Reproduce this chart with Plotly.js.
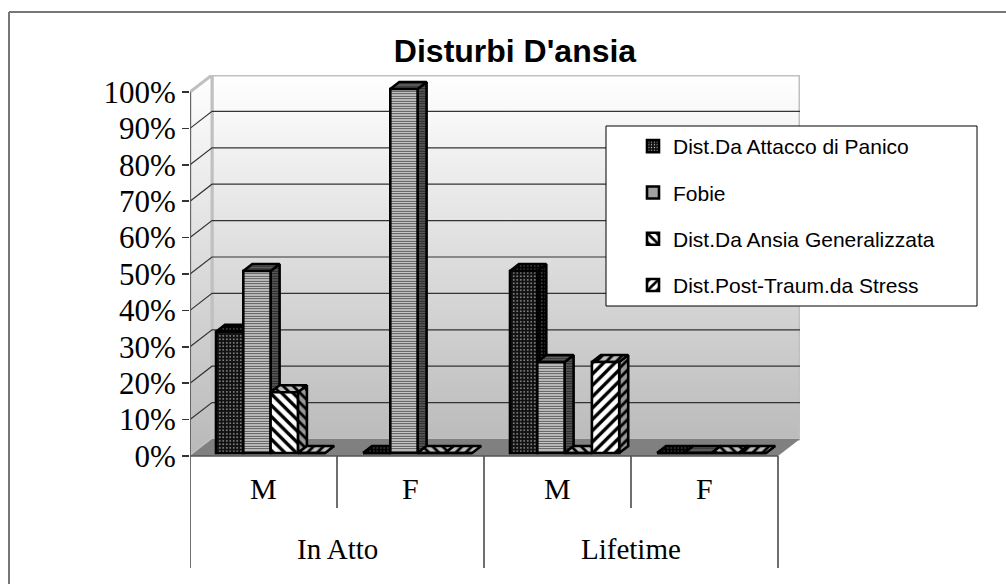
<!DOCTYPE html>
<html><head><meta charset="utf-8">
<script src="https://cdn.plot.ly/plotly-3.0.1.min.js"></script>
<style>html,body{margin:0;padding:0;background:#fff}#c{width:1006px;height:584px}</style></head>
<body><div id="c"></div>
<script>
var chartTitle = "Disturbi D'ansia";
var groups = ["In Atto", "Lifetime"];
var categories = ["M", "F", "M", "F"];
var categoryPos = [0, 1, 2, 3];
var tickValues = [0,10,20,30,40,50,60,70,80,90,100];
var tickLabels = ["0%","10%","20%","30%","40%","50%","60%","70%","80%","90%","100%"];
var panico = [33.33, 0, 50, 0];
var fobie = [50, 100, 25, 0];
var ansia = [16.67, 0, 0, 0];
var stress = [0, 0, 25, 0];
var seriesNames = ["Dist.Da Attacco di Panico","Fobie","Dist.Da Ansia Generalizzata","Dist.Post-Traum.da Stress"];
var seriesValues = [panico, fobie, ansia, stress];

var pxL=190, pxR=800, pxT=75, pxB=568, pxZero=456, pxPerCat=147, pxPerPct=3.64;
var xMax=(pxR-pxL)/pxPerCat, yMax=(pxZero-pxT)/pxPerPct, yMin=-(pxB-pxZero)/pxPerPct;
var wallDx=22/pxPerCat, wallDy=17/pxPerPct;
var barW=27.3/pxPerCat, barStart=26/pxPerCat, barBase=3/pxPerPct, barDx=9/pxPerCat, barDy=7/pxPerPct;
function paperX(px){return (px-pxL)/(pxR-pxL);}
function paperY(px){return (pxB-px)/(pxB-pxT);}

var frontStyle=[
 {shape:'.',bgcolor:'#111',fgcolor:'#ddd',size:3.5,solidity:0.14},
 {shape:'-',bgcolor:'#fff',fgcolor:'#444',size:2.5,solidity:0.55},
 {shape:'\\',bgcolor:'#fff',fgcolor:'#000',size:8,solidity:0.42},
 {shape:'/',bgcolor:'#fff',fgcolor:'#000',size:8,solidity:0.42}];
var sideStyle=[
 {shape:'.',bgcolor:'#000',fgcolor:'#777',size:3.5,solidity:0.14},
 {shape:'-',bgcolor:'#777',fgcolor:'#222',size:2.5,solidity:0.6},
 {shape:'\\',bgcolor:'#999',fgcolor:'#000',size:7,solidity:0.4},
 {shape:'/',bgcolor:'#999',fgcolor:'#000',size:7,solidity:0.4}];
var topStyle=[
 {shape:'.',bgcolor:'#000',fgcolor:'#777',size:3.5,solidity:0.14},
 {shape:'-',bgcolor:'#777',fgcolor:'#333',size:2.5,solidity:0.6},
 {shape:'\\',bgcolor:'#bbb',fgcolor:'#000',size:7,solidity:0.4},
 {shape:'/',bgcolor:'#bbb',fgcolor:'#000',size:7,solidity:0.4}];

function poly(xs,ys,extra){
  return Object.assign({type:'scatter',mode:'lines',x:xs,y:ys,fill:'toself',showlegend:false,hoverinfo:'skip',xaxis:'x',yaxis:'y',line:{width:0}},extra);
}
var traces=[];
var grad={type:'vertical',colorscale:[[0,'#b8b8b8'],[1,'#ffffff']],start:0,stop:100+wallDy};
var wallEdge={color:'#c0c0c0',width:3};
traces.push(poly([wallDx,xMax,xMax,wallDx,wallDx],[wallDy,wallDy,100+wallDy,100+wallDy,wallDy],{fillgradient:grad,line:wallEdge}));
traces.push(poly([0,wallDx,wallDx,0,0],[0,wallDy,100+wallDy,100,0],{fillgradient:grad,line:wallEdge}));
traces.push(poly([0,xMax-wallDx,xMax,wallDx,0],[0,0,wallDy,wallDy,0],{fillcolor:'#808080',line:{width:0}}));
var gx=[],gy=[];
tickValues.forEach(function(t){ if(t>0&&t<100){gx.push(0,wallDx,xMax,null);gy.push(t,t+wallDy,t+wallDy,null);} });
traces.push({type:'scatter',mode:'lines',x:gx,y:gy,line:{color:'#333',width:1.2},showlegend:false,hoverinfo:'skip'});
var dx=[],dy=[];
categoryPos.concat([4]).forEach(function(p,i){dx.push(p,p,null);dy.push(0,(i%2===0)?yMin:-14.3,null);});
dx.push(0,4,null);dy.push(0,0,null);
dx.push(0,0,null);dy.push(0,100,null);
traces.push({type:'scatter',mode:'lines',x:dx,y:dy,line:{color:'#555',width:1.7},showlegend:false,hoverinfo:'skip'});
seriesValues.forEach(function(vals,s){
  vals.forEach(function(v,c){
    var x0=categoryPos[c]+barStart+s*barW, x1=x0+barW, b=barBase, t=barBase+v;
    var edge={color:'#000',width:2.6};
    if(v>0) traces.push(poly([x1,x1+barDx,x1+barDx,x1,x1],[b,b+barDy,t+barDy,t,b],{fillcolor:'rgba(0,0,0,0)',fillpattern:sideStyle[s],line:edge}));
    traces.push(poly([x0,x1,x1+barDx,x0+barDx,x0],[t,t,t+barDy,t+barDy,t],{fillcolor:'rgba(0,0,0,0)',fillpattern:topStyle[s],line:edge}));
  });
});
seriesValues.forEach(function(vals,s){
  traces.push({type:'bar',name:seriesNames[s],x:categoryPos,y:vals,base:barBase,width:barW,
    offset:barStart+s*barW,xaxis:'x2',yaxis:'y2',legendgroup:'g'+s,hoverinfo:'skip',
    marker:{color:'#fff',pattern:frontStyle[s],line:{color:'#000',width:2.6}}});
});

var W=1006,H=584;
var layout={
  width:W,height:H,paper_bgcolor:'#fff',plot_bgcolor:'rgba(0,0,0,0)',
  margin:{l:pxL,r:W-pxR,t:pxT,b:H-pxB,pad:0},
  title:{text:chartTitle,font:{family:'Liberation Sans',size:32,color:'#000',weight:'bold'},x:515/W,xanchor:'center',y:1-51/H,yanchor:'middle'},
  xaxis:{range:[0,xMax],showgrid:false,zeroline:false,showline:false,ticks:'',fixedrange:true,showticklabels:false},
  yaxis:{range:[yMin,yMax],tickmode:'array',tickvals:tickValues,ticktext:tickLabels,showgrid:false,zeroline:false,showline:false,
    ticks:'outside',ticklen:7,tickcolor:'#333',tickwidth:1.5,tickfont:{family:'Liberation Serif',size:31,color:'#000'},fixedrange:true},
  xaxis2:{matches:'x',overlaying:'x',visible:false},
  yaxis2:{matches:'y',overlaying:'y',visible:false},
  barmode:'overlay',
  showlegend:true,
  legend:{x:paperX(633),xanchor:'left',y:paperY(126),yanchor:'top',bgcolor:'rgba(0,0,0,0)',borderwidth:0,traceorder:'grouped',
    tracegroupgap:16,font:{family:'Liberation Sans',size:21,color:'#000'}},
  shapes:[
    {type:'rect',xref:'paper',yref:'paper',x0:paperX(606),x1:paperX(977),y0:paperY(306),y1:paperY(126),fillcolor:'#fff',line:{color:'#000',width:1},layer:'above'},
    {type:'line',xref:'paper',yref:'paper',x0:paperX(9),x1:paperX(1006),y0:paperY(12),y1:paperY(12),line:{color:'#777',width:2},layer:'below'},
    {type:'line',xref:'paper',yref:'paper',x0:paperX(9),x1:paperX(9),y0:paperY(12),y1:paperY(584),line:{color:'#777',width:2},layer:'below'}
  ],
  annotations:[]
};
categories.forEach(function(c,i){
  layout.annotations.push({text:c,x:categoryPos[i]+0.5,y:-8.8,xref:'x',yref:'y',showarrow:false,font:{family:'Liberation Serif',size:30,color:'#000'}});
});
groups.forEach(function(g,i){
  layout.annotations.push({text:g,x:2*i+1,y:-25.6,xref:'x',yref:'y',showarrow:false,font:{family:'Liberation Serif',size:29,color:'#000'}});
});
Plotly.newPlot('c',traces,layout,{displayModeBar:false,staticPlot:true});
</script></body></html>
